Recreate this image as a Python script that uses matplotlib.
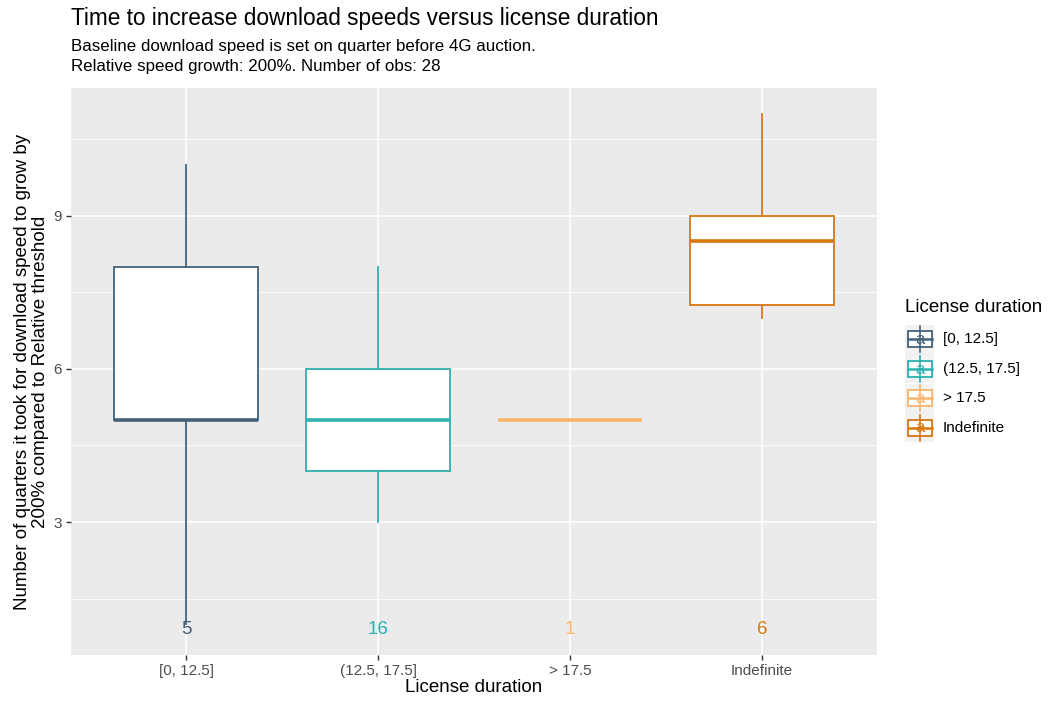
import matplotlib
matplotlib.use("Agg")
import matplotlib.pyplot as plt
from matplotlib.patches import Rectangle
from matplotlib.ticker import MultipleLocator

# ---------------------------------------------------------
# Data
# ---------------------------------------------------------

categories = ["[0, 12.5]", "(12.5, 17.5]", "> 17.5", "Indefinite"]
whisker_low = [1, 3, 5, 7]
q1 = [5, 4, 5, 7.25]
median = [5, 5, 5, 8.5]
q3 = [8, 6, 5, 9]
whisker_high = [10, 8, 5, 11]
n_obs = [5, 16, 1, 6]

colors = ["#45627A", "#2BB1AE", "#F9B56B", "#D9770E"]

label_y = 0.9

plt.rcParams["font.family"] = ["Liberation Sans", "DejaVu Sans"]

fig = plt.figure(figsize=(10.54, 7.02), dpi=100)
fig.patch.set_facecolor("white")

ax = fig.add_axes([0.0674, 0.067, 0.7646, 0.8076])
ax.set_facecolor("#EBEBEB")

positions = list(range(1, len(categories) + 1))
stats = []
for i, cat in enumerate(categories):
    stats.append({
        "label": cat,
        "whislo": whisker_low[i],
        "q1": q1[i],
        "med": median[i],
        "q3": q3[i],
        "whishi": whisker_high[i],
        "fliers": [],
    })

bp = ax.bxp(
    stats,
    positions=positions,
    widths=0.75,
    showcaps=False,
    showfliers=False,
    patch_artist=True,
    zorder=3,
)

for i, c in enumerate(colors):
    bp["boxes"][i].set(facecolor="white", edgecolor=c, linewidth=1.3)
    bp["medians"][i].set(color=c, linewidth=2.6, solid_capstyle="butt")
    for w in bp["whiskers"][2 * i:2 * i + 2]:
        w.set(color=c, linewidth=1.3)

# group sizes along the bottom
for x, n, c in zip(positions, n_obs, colors):
    ax.text(x, label_y, str(n), color=c, ha="center", va="center",
            fontsize=13.5, zorder=4)

# axis limits with ggplot-style 5% padding
y_lo = min(min(whisker_low), label_y)
y_hi = max(whisker_high)
pad = 0.05 * (y_hi - y_lo)
ax.set_ylim(y_lo - pad, y_hi + pad)
ax.set_xlim(0.4, len(categories) + 0.6)

ax.set_xticks(positions)
ax.set_xticklabels(categories)
ax.yaxis.set_major_locator(MultipleLocator(3))
ax.yaxis.set_minor_locator(MultipleLocator(1.5))
ax.set_xticks([p + 0.5 for p in positions[:-1]], minor=True)

ax.grid(which="major", color="white", linewidth=1.2, zorder=0)
ax.grid(which="minor", axis="y", color="white", linewidth=0.6, zorder=0)
ax.set_axisbelow(True)
for s in ax.spines.values():
    s.set_visible(False)

ax.tick_params(which="major", length=3.5, width=1, color="#333333",
               labelcolor="#4D4D4D", labelsize=11, pad=3)
ax.tick_params(which="minor", length=0)

ax.set_xlabel("License duration", fontsize=13.5, labelpad=1)
ax.set_ylabel("Number of quarters it took for download speed to grow by\n"
              "200% compared to Relative threshold", fontsize=13.5,
              labelpad=3, linespacing=1.1)

fig.text(71 / 1054, 1 - 18 / 702, "Time to increase download speeds versus license duration",
         fontsize=16.3, ha="left", va="center")
fig.text(71 / 1054, 1 - 39 / 702,
         "Baseline download speed is set on quarter before 4G auction.\n"
         "Relative speed growth: 200%. Number of obs: 28",
         fontsize=12.2, ha="left", va="top", linespacing=1.4)

# ---------------------------------------------------------
# Legend (drawn in pixel space)
# ---------------------------------------------------------

leg = fig.add_axes([0, 0, 1, 1], facecolor="none")
leg.set_xlim(0, 1054)
leg.set_ylim(702, 0)
leg.axis("off")

leg.text(905, 307, "License duration", fontsize=13.5, ha="left", va="center")
key_x0, key_w, key_h = 905, 29, 29
for i, (cat, c) in enumerate(zip(categories, colors)):
    cy = 339 + i * 29.5
    leg.add_patch(Rectangle((key_x0, cy - key_h / 2), key_w, key_h,
                            facecolor="#F2F2F2", edgecolor="none"))
    cx = key_x0 + key_w / 2
    leg.plot([cx, cx], [cy - 13, cy + 13], color=c, linewidth=1.2)
    leg.add_patch(Rectangle((key_x0 + 2.5, cy - 8), key_w - 5, 16,
                            facecolor="white", edgecolor=c, linewidth=1.3))
    leg.plot([key_x0 + 2.5, key_x0 + key_w - 2.5], [cy, cy], color=c, linewidth=1.8)
    leg.text(cx, cy + 0.5, "a", color=c, fontsize=12, ha="center", va="center")
    leg.text(943, cy, cat, fontsize=11, ha="left", va="center")

fig.savefig("out.png", dpi=100)
